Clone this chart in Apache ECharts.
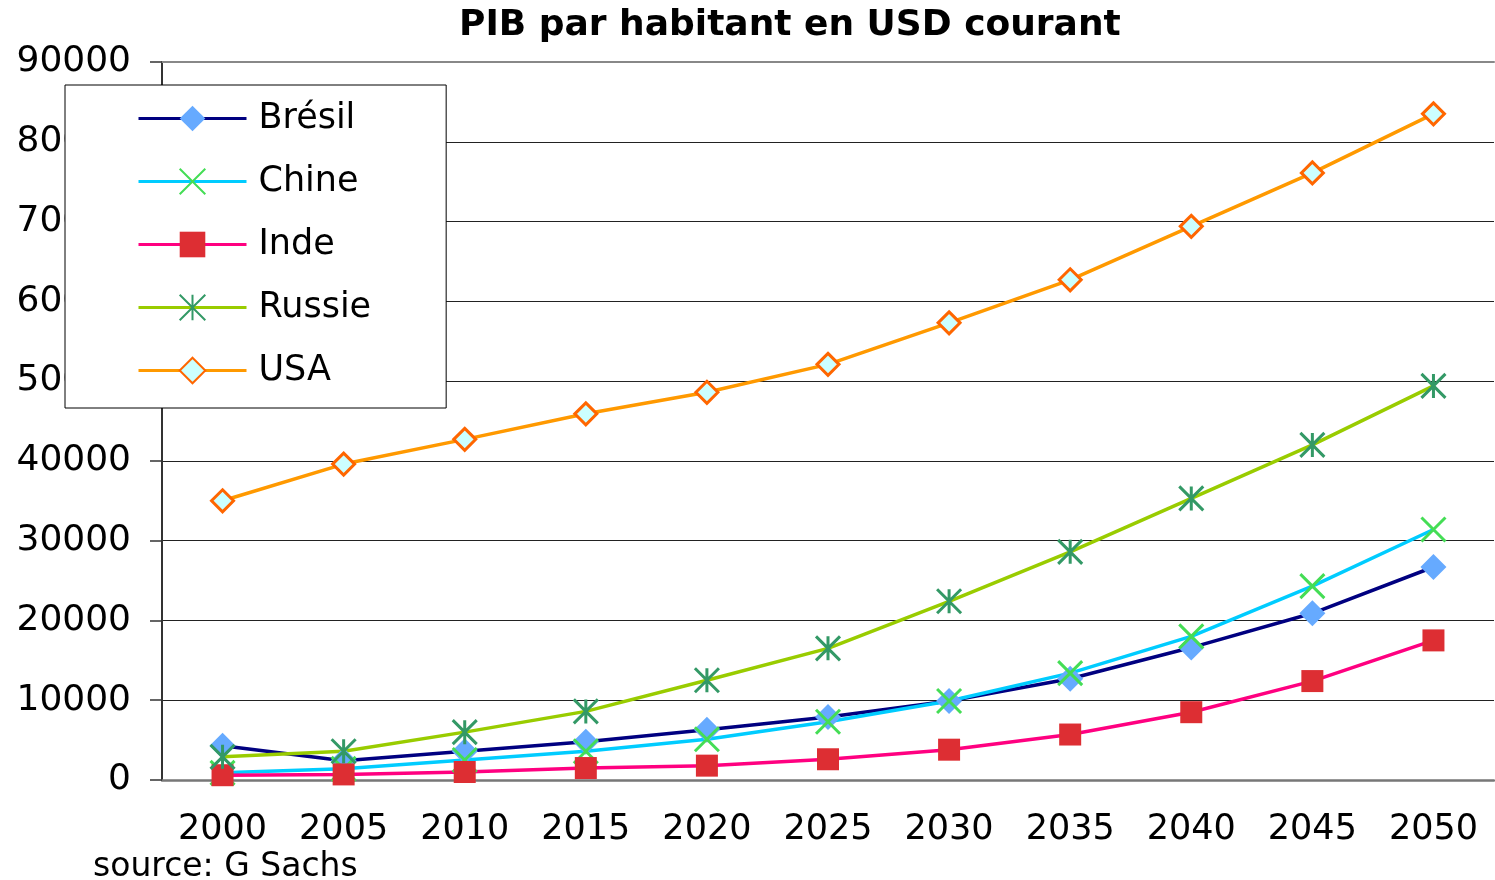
<!DOCTYPE html>
<html>
<head>
<meta charset="utf-8">
<script src="https://cdn.jsdelivr.net/npm/echarts@6/dist/echarts.min.js"></script>
<style>html,body{margin:0;padding:0;background:#fff}#c{width:1495px;height:880px}</style>
</head>
<body>
<div id="c"></div>
<script>
var years = ['2000','2005','2010','2015','2020','2025','2030','2035','2040','2045','2050'];
var bresil = [4300, 2400, 3600, 4800, 6300, 7900, 9900, 12700, 16600, 20900, 26700];
var chine  = [900, 1400, 2500, 3600, 5100, 7300, 9900, 13400, 18000, 24300, 31400];
var inde   = [600, 700, 1000, 1500, 1800, 2600, 3800, 5700, 8500, 12400, 17500];
var russie = [2900, 3600, 6000, 8600, 12500, 16500, 22400, 28600, 35300, 42000, 49400];
var usa    = [35000, 39600, 42700, 45900, 48600, 52100, 57300, 62700, 69400, 76100, 83500];

var FONT = 'DejaVu Sans';
var xPath = 'path://M0,0L10,10M10,0L0,10';
var starPath = 'path://M0,0L10,10M10,0L0,10M5,0L5,10';

var chart = echarts.init(document.getElementById('c'), null, {renderer: 'canvas'});
chart.setOption({
  backgroundColor: '#fff',
  animation: false,
  title: [
    {text: 'PIB par habitant en USD courant', left: 459, top: 8, padding: 0,
     textStyle: {fontFamily: FONT, fontWeight: 'bold', fontSize: 36, color: '#000'}},
    {text: 'source: G Sachs', left: 93, top: 851, padding: 0,
     textStyle: {fontFamily: FONT, fontWeight: 'normal', fontSize: 33, color: '#000'}}
  ],
  legend: {
    orient: 'vertical', left: 65, top: 85,
    backgroundColor: '#fff', borderColor: '#000', borderWidth: 1,
    padding: [16, 75, 20, 72],
    itemWidth: 108, itemHeight: 32, itemGap: 28,
    lineStyle: {width: 3},
    textStyle: {fontFamily: FONT, fontSize: 35, color: '#000', padding: [0, 0, 0, 7]},
    data: ['Brésil', 'Chine', 'Inde', 'Russie', 'USA']
  },
  grid: {left: 162, right: 1, top: 62, bottom: 100, containLabel: false},
  xAxis: [{
    type: 'category', data: years, boundaryGap: true,
    axisLine: {lineStyle: {color: '#777', width: 2.5}},
    axisTick: {length: 9, lineStyle: {color: '#333', width: 2}},
    axisLabel: {fontFamily: FONT, fontSize: 35, color: '#000', margin: 32},
    splitLine: {show: false}
  }, {
    type: 'category', data: years, position: 'top',
    axisLine: {show: true, lineStyle: {color: '#888', width: 2}},
    axisTick: {show: false}, axisLabel: {show: false}, splitLine: {show: false}
  }],
  yAxis: {
    type: 'value', min: 0, max: 90000, interval: 10000,
    axisLine: {show: true, lineStyle: {color: '#333', width: 2}},
    axisTick: {show: true, length: 12, lineStyle: {color: '#333', width: 1.5}},
    axisLabel: {fontFamily: FONT, fontSize: 36, color: '#000', margin: 31,
      formatter: function (v) { return String(v); }},
    splitLine: {show: true, lineStyle: {color: ['#222','#222','#222','#222','#222','#222','#222','#222','#222','#888'], width: 1}}
  },
  series: [
    {name: 'Brésil', type: 'line', data: bresil, symbol: 'diamond', symbolSize: 26,
     lineStyle: {color: '#000080', width: 3.5}, itemStyle: {color: '#66AAFF', borderWidth: 0}},
    {name: 'Chine', type: 'line', data: chine, symbol: xPath, symbolSize: 24,
     lineStyle: {color: '#00CCFF', width: 3.5}, itemStyle: {color: '#44DD55', borderColor: '#44DD55', borderWidth: 3}},
    {name: 'Inde', type: 'line', data: inde, symbol: 'rect', symbolSize: 22,
     lineStyle: {color: '#FF0080', width: 3.5}, itemStyle: {color: '#DD2E33', borderWidth: 0}},
    {name: 'Russie', type: 'line', data: russie, symbol: starPath, symbolSize: 24,
     lineStyle: {color: '#99CC00', width: 3.5}, itemStyle: {color: '#339966', borderColor: '#339966', borderWidth: 3}},
    {name: 'USA', type: 'line', data: usa, symbol: 'diamond', symbolSize: 22,
     lineStyle: {color: '#FF9900', width: 3.5}, itemStyle: {color: '#CCFFFF', borderColor: '#FF6600', borderWidth: 3}}
  ]
});
</script>
</body>
</html>
